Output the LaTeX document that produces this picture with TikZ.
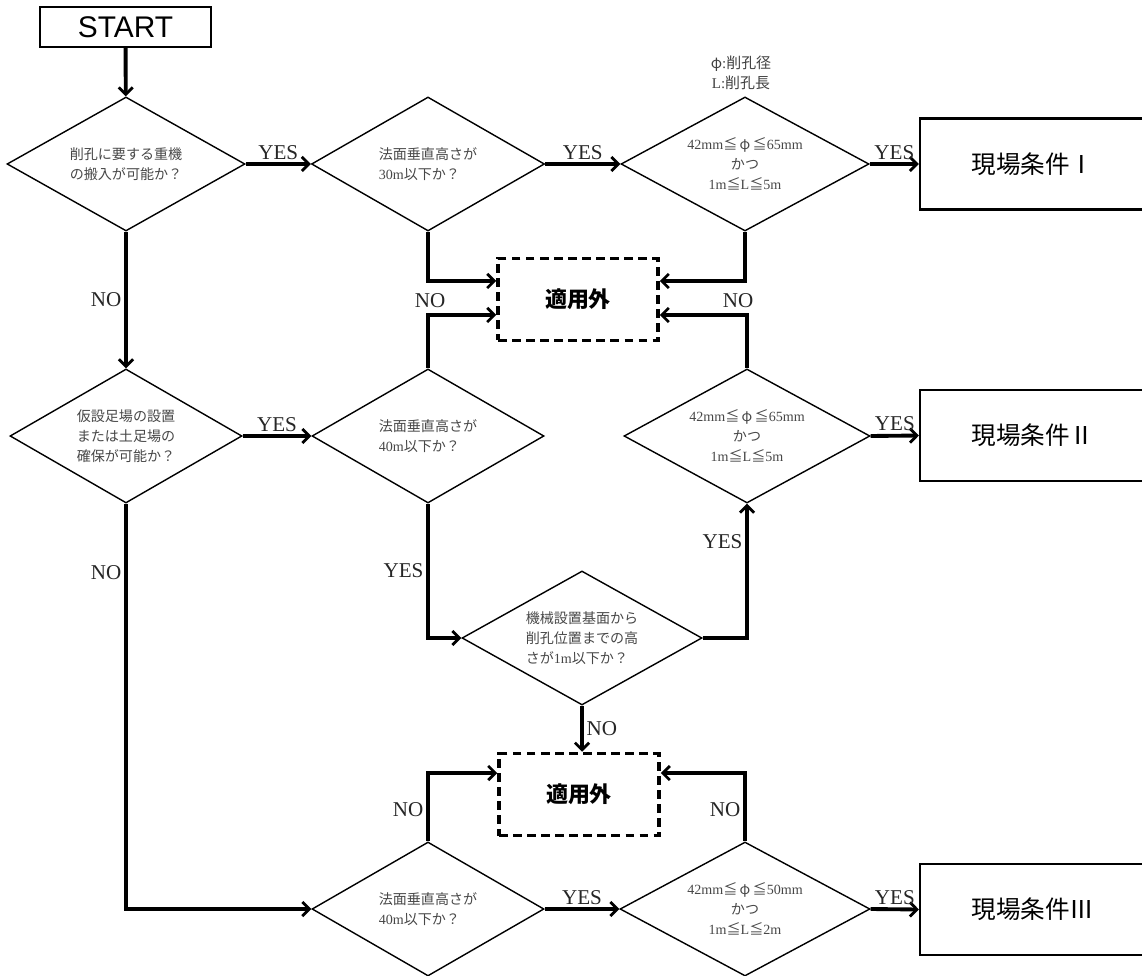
\documentclass[tikz,border=0pt]{standalone}
\usepackage{fontspec}
\setmainfont{Liberation Serif}
\newfontfamily\jp{Noto Sans CJK JP}
\newfontfamily\hdfont{Liberation Sans}
\usetikzlibrary{shapes.geometric,arrows.meta}
\newcommand\lat[1]{{\rmfamily #1}}

\begin{document}
\begin{tikzpicture}[x=0.2mm, y=-0.2mm,
  dia/.style={diamond, draw, line width=0.8pt, aspect=1.8, inner sep=0pt, minimum width=#1, minimum height=26.8mm, align=left, text=black!72, font=\jp\fontsize{8}{11.4}\selectfont},
  cond/.style={draw, line width=1.2pt, minimum width=45.2mm, minimum height=18.2mm, font=\jp\fontsize{14}{14}\selectfont},
  na/.style={draw, line width=2pt, dash pattern=on 5pt off 3pt, minimum width=32mm, minimum height=16.4mm, font=\jp\bfseries\fontsize{12.5}{12.5}\selectfont},
  flow/.style={line width=2.2pt, -{Straight Barb[length=4pt,width=8pt,line width=1.6pt]}},
  lab/.style={font=\fontsize{12}{12}\selectfont, text=black!85, inner sep=1.5pt}]
\useasboundingbox (0,0) rectangle (1142,976);
% start
\node[draw, line width=1.2pt, minimum width=34.2mm, minimum height=8mm, font=\hdfont\fontsize{17}{17}\selectfont] (start) at (125.5,27) {START};
% decisions
\node[dia=47.6mm] (d1) at (126,164) {削孔に要する重機\\の搬入が可能か？};
\node[dia=46.6mm] (d2) at (428,164) {法面垂直高さが\\\lat{30m}以下か？};
\node[dia=49.6mm, align=center] (d3) at (745,164) {\lat{42mm}≦\,φ\,≦\lat{65mm}\\かつ\\\lat{1m}≦\lat{L}≦\lat{5m}};
\node[dia=46.4mm] (dl2) at (126,436) {仮設足場の設置\\または土足場の\\確保が可能か？};
\node[dia=46.4mm] (d4) at (428,436) {法面垂直高さが\\\lat{40m}以下か？};
\node[dia=49.2mm, align=center] (d5) at (747,436) {\lat{42mm}≦\,φ\,≦\lat{65mm}\\かつ\\\lat{1m}≦\lat{L}≦\lat{5m}};
\node[dia=48mm] (dm) at (582,638) {機械設置基面から\\削孔位置までの高\\さが\lat{1m}以下か？};
\node[dia=46.4mm] (d6) at (428,909) {法面垂直高さが\\\lat{40m}以下か？};
\node[dia=50mm, align=center] (d7) at (745,909) {\lat{42mm}≦\,φ\,≦\lat{50mm}\\かつ\\\lat{1m}≦\lat{L}≦\lat{2m}};
% key
\node[font=\fontsize{8.5}{11.5}\selectfont, text=black!75, align=center] (key) at (741,73) {{\jp φ}:{\jp 削孔径}\\L:{\jp 削孔長}};
% results
\node[cond] (c1) at (1033,164) {現場条件Ⅰ};
\node[cond] (c2) at (1033,435.5) {現場条件Ⅱ};
\node[cond] (c3) at (1033,909.5) {現場条件Ⅲ};
\node[na] (na1) at (578,299.5) {適用外};
\node[na] (na2) at (579,794.5) {適用外};
% yes arrows
\foreach \a/\b in {d1/d2, d2/d3, d3/c1, dl2/d4, d5/c2, d6/d7, d7/c3}
  \draw[flow] (\a.east) -- node[lab, above] {YES} (\b.west);
% left column
\draw[flow] (start) -- (d1);
\draw[flow] (d1) -- node[lab, left] {NO} (dl2);
\draw[flow] (dl2.south) |- node[lab, left, pos=.085] {NO} (d6.west);
% middle
\draw[flow] (d4.south) |- node[lab, left, pos=.25] {YES} (dm.west);
\draw[flow] (dm.east) -| node[lab, left, pos=.86] {YES} (d5.south);
\draw[flow] (dm.south) -- node[lab, right] {NO} (dm.south |- na2.north);
% into the not-applicable boxes
\draw[flow] (d2.south) |- ([yshift=3.7mm]na1.west);
\draw[flow] (d4.north) |- ([yshift=-3.1mm]na1.west);
\draw[flow] (d3.south) |- ([yshift=3.7mm]na1.east);
\draw[flow] (d5.north) |- ([yshift=-3.1mm]na1.east);
\node[lab] (no1) at (430,301) {NO};
\node[lab] (no2) at (738,301) {NO};
\draw[flow] (d6.north) |- node[lab, left, pos=.23] {NO} ([yshift=4.3mm]na2.west);
\draw[flow] (d7.north) |- node[lab, left, pos=.23] {NO} ([yshift=4.3mm]na2.east);
\end{tikzpicture}
\end{document}
